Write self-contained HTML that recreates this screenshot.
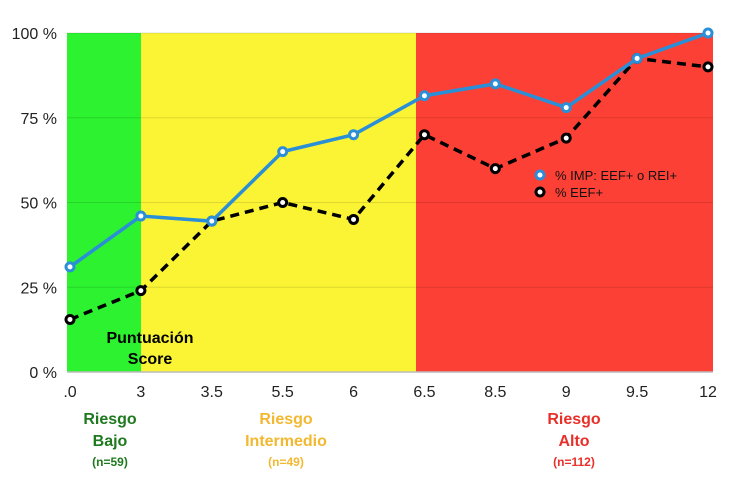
<!DOCTYPE html>
<html><head><meta charset="utf-8"><style>
html,body{margin:0;padding:0;background:#fff;width:750px;height:502px;overflow:hidden}
svg{display:block;font-family:"Liberation Sans",sans-serif}
</style></head><body>
<svg id="chart" width="750" height="502">
<g id="bands">
<rect x="67" y="33" width="74" height="339" fill="#2cf22f"/>
<rect x="141" y="33" width="275" height="339" fill="#fbf435"/>
<rect x="416" y="33" width="297" height="339" fill="#fd4035"/>
</g>
<g id="grid"></g>
<g id="yaxis"></g>
<g id="xaxis"></g>
<g id="series"></g>
<text x="150" y="343" font-size="16" font-weight="bold" text-anchor="middle"><tspan x="150">Puntuación</tspan><tspan x="150" dy="21">Score</tspan></text>
<g>
<circle cx="540" cy="175" r="4" fill="#fff" stroke="#2a8fd6" stroke-width="3"/>
<text x="555" y="180" font-size="13" fill="#111">% IMP: EEF+ o REI+</text>
<circle cx="540" cy="192" r="4" fill="#fff" stroke="#000" stroke-width="3"/>
<text x="555" y="197" font-size="13" fill="#111">% EEF+</text>
</g>
<g font-weight="bold" text-anchor="middle">
<text font-size="16" fill="#1f7a1f"><tspan x="110" y="424">Riesgo</tspan><tspan x="110" y="446">Bajo</tspan><tspan x="110" y="466" font-size="12">(n=59)</tspan></text>
<text font-size="16" fill="#f2b830"><tspan x="286" y="424">Riesgo</tspan><tspan x="286" y="446">Intermedio</tspan><tspan x="286" y="466" font-size="12">(n=49)</tspan></text>
<text font-size="16" fill="#e8302a"><tspan x="574" y="424">Riesgo</tspan><tspan x="574" y="446">Alto</tspan><tspan x="574" y="466" font-size="12">(n=112)</tspan></text>
</g>
</svg>
<script>
const categories=[".0","3","3.5","5.5","6","6.5","8.5","9","9.5","12"];
const impValues=[31,46,44.5,65,70,81.5,85,78,92.5,100];
const eefValues=[15.5,24,44.5,50,45,70,60,69,92.5,90];
const yTicks=[0,25,50,75,100];
const yTickLabels=["0 %","25 %","50 %","75 %","100 %"];
const NS="http://www.w3.org/2000/svg";
const x=i=>70+i*(708-70)/(categories.length-1);
const y=v=>372-v*(372-33)/100;
function mk(tag,attrs,parent){const e=document.createElementNS(NS,tag);for(const k in attrs)e.setAttribute(k,attrs[k]);parent.appendChild(e);return e;}
const grid=document.getElementById('grid'),ya=document.getElementById('yaxis'),xa=document.getElementById('xaxis'),ser=document.getElementById('series');
yTicks.forEach((t,i)=>{
 if(t>0){const l=mk('line',{x1:67,x2:713,y1:y(t),y2:y(t),stroke:'rgba(0,0,0,0.12)','stroke-width':1},grid);
 
 }
 const tx=mk('text',{x:57,y:y(t)+6,'font-size':16,'text-anchor':'end',fill:'#222'},ya);tx.textContent=yTickLabels[i];
 
 
});
const base=mk('line',{x1:67,x2:713,y1:372,y2:372,stroke:'#bbb','stroke-width':1.5},xa);


categories.forEach((c,i)=>{
 const tx=mk('text',{x:x(i),y:397,'font-size':16,'text-anchor':'middle',fill:'#222'},xa);tx.textContent=c;
 
 
});
function drawSeries(vals,color,dash,name){
 const p=mk('polyline',{points:vals.map((v,i)=>x(i)+','+y(v)).join(' '),fill:'none',stroke:color,'stroke-width':3.5,'stroke-dasharray':dash},ser);
 
 
 vals.forEach((v,i)=>{
  const c=mk('circle',{cx:x(i),cy:y(v),r:4,fill:'#fff',stroke:color,'stroke-width':3},ser);
  
  
 });
}
drawSeries(eefValues,'#000','9,6','eef');
drawSeries(impValues,'#2a8fd6','none','imp');
</script>
</body></html>
